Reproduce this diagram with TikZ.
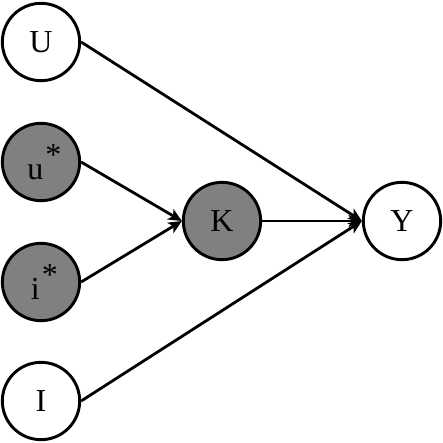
\documentclass[tikz,border=0pt]{standalone}
\usepackage{fontspec}
\setmainfont{Liberation Serif}
\usetikzlibrary{arrows.meta}
\newcommand{\bigast}{\hspace{1.5pt}\raisebox{10.5pt}{\fontsize{24}{24}\selectfont *}}
\begin{document}
\begin{tikzpicture}[x=0.75pt,y=-0.75pt,
  var/.style={circle,draw=black,line width=2.2pt,minimum size=58pt,inner sep=0pt,font=\fontsize{24}{28}\selectfont},
  obs/.style={var,fill=white},
  lat/.style={var,fill=black!50},
  edge/.style={line width=2.1pt,-{Stealth[length=10pt,width=9pt,inset=2.5pt]}}]
\useasboundingbox (0,0) rectangle (443,443);
\node[obs] (U) at (41,42) {U};
\node[lat] (us) at (41,162) {\hspace{5pt}u\bigast};
\node[lat] (is) at (41,282) {\hspace{5pt}i\bigast};
\node[obs] (I) at (41,401) {I};
\node[lat] (K) at (222,221) {K};
\node[obs] (Y) at (402,221) {Y};
\draw[edge] (us.east) -- (K.west);
\draw[edge] (is.east) -- (K.west);
\draw[edge] (U.east) -- (Y.west);
\draw[edge] (I.east) -- (Y.west);
\draw[edge] (K.east) -- (Y.west);
\end{tikzpicture}
\end{document}
